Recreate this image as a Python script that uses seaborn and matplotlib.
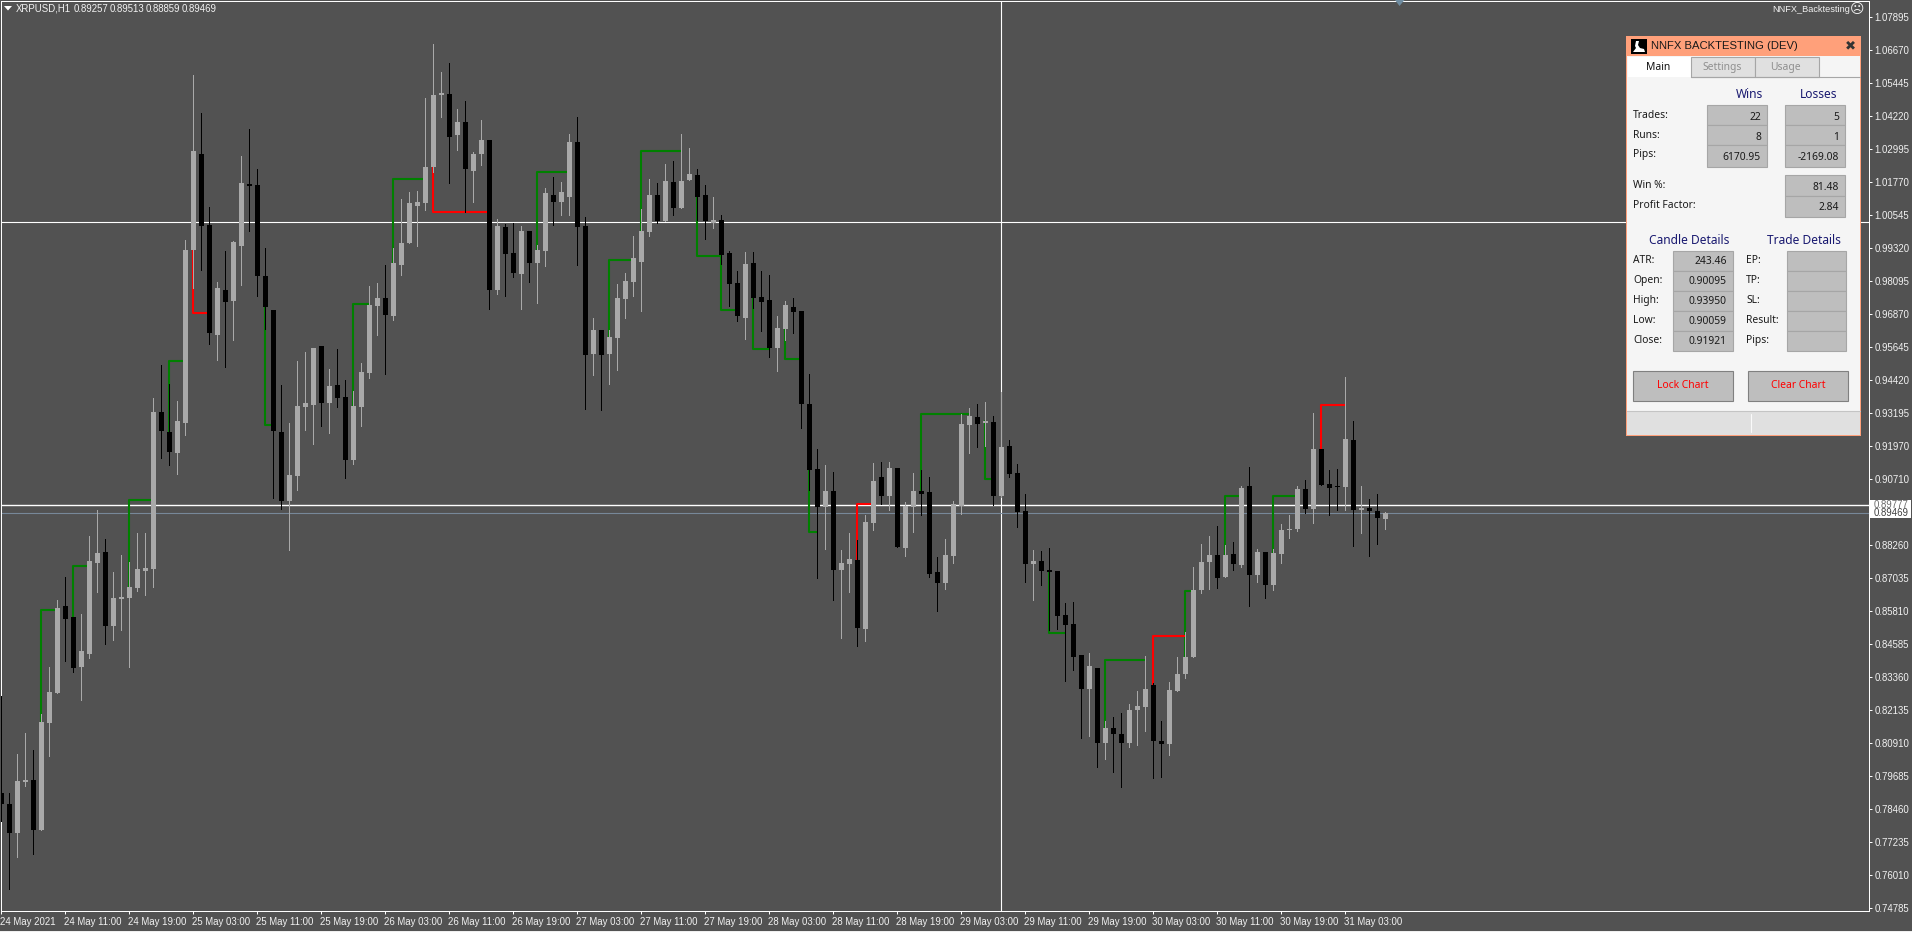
import matplotlib
matplotlib.use("Agg")
import matplotlib.pyplot as plt
from matplotlib.patches import Rectangle, Polygon
from matplotlib.transforms import ScaledTranslation
import pandas as pd
import seaborn as sns

# candles, one per hour
opens = [
    .79072, .78663, .77587, .79480, .79554, .77698, .81670, .82784, .86012, .85604,
    .83748, .84231, .87609, .88018, .85270, .86273, .86310, .86681, .87312, .87386,
    .93214, .92472, .91693, .92806, .99228, 1.02792, 1.00155, .96072, .97743, .97335,
    .99376, 1.01678, 1.01640, .98262, .97000, .92472, .89911, .90838, .93400, .93474,
    .95664, .93549, .94216, .93771, .91432, .93400, .94662, .97149, .97446, .96777,
    .98670, .99488, 1.00861, 1.00973, 1.02309, 1.04981, 1.05019, 1.03496, 1.03979, 1.02160,
    1.02792, 1.03311, .97743, 1.00081, .99117, .98337, .99933, .98745, .99191, 1.01269,
    1.01010, 1.01195, 1.03237, 1.00118, .95367, .96258, .95367, .95961, .97409, .98040,
    .98782, .99896, 1.01269, 1.00304, 1.01752, 1.00787, 1.01826, 1.02012, 1.01269, 1.00230,
    1.00341, .99117, .98003, .96703, .98745, .97483, .97372, .95590, .96295, .97112,
    .96963, .93512, .91098, .89688, .90282, .87349, .87572, .87720, .85159, .89094,
    .90801, .90096, .91135, .88166, .89688, .90282, .90245, .87275, .86867, .87869,
    .89726, .92731, .93028, .92806, .92843, .90095, .91952, .90950, .89539, .87572,
    .87683, .87349, .87312, .85678, .85344, .84194, .82932, .83711, .80928, .81484,
    .81262, .80928, .82152, .82263, .83081, .81002, .80891, .82858, .83489, .84119,
    .86607, .87646, .87906, .87089, .87943, .87535, .90468, .87163, .88018, .86792,
    .87943, .88834, .88871, .90356, .89613, .91841, .90542, .90468, .90430, .92175,
    .89576, .89650, .89539, .89257,
]
highs = [
    .82672, .79072, .80519, .81299, .80667, .82004, .83748, .86235, .87089, .85604,
    .85716, .88611, .89576, .88500, .87275, .87906, .87646, .88723, .88723, .93734,
    .94958, .94254, .93623, .99599, 1.05724, 1.04314, 1.00824, .98040, .99191, .99562,
    1.02717, 1.03719, 1.02235, .99302, .97000, .94216, .92806, .95107, .95442, .95590,
    .95664, .94810, .95553, .94402, .93994, .95033, .97891, .98003, .98670, .99302,
    1.01121, 1.01381, 1.01418, 1.04870, 1.06875, 1.05836, 1.06170, 1.04462, 1.04759, 1.02866,
    1.04053, 1.03311, 1.00378, 1.00193, 1.00230, 1.00118, .99933, .99413, 1.01529, 1.01937,
    1.01752, 1.03534, 1.04165, 1.00452, .96703, .96258, .96258, .97966, .98374, .99747,
    1.00749, 1.01863, 1.01715, 1.02421, 1.02532, 1.03534, 1.03014, 1.02235, 1.01640, 1.01195,
    1.00526, .99191, .98448, .99154, .99154, .98448, .98299, .96777, .97335, .97446,
    .96963, .94625, .91841, .91246, .90987, .88092, .88723, .88463, .89391, .91321,
    .91358, .91358, .91135, .89874, .90950, .91061, .90801, .87831, .88500, .89911,
    .93140, .93363, .93512, .93586, .93065, .93950, .92175, .91284, .90171, .88092,
    .88055, .88166, .87312, .86124, .86161, .84194, .84268, .83711, .81744, .81892,
    .82041, .82375, .82858, .84156, .83155, .81744, .83192, .84119, .85048, .87460,
    .88314, .88611, .88982, .88277, .88389, .90468, .91172, .88129, .88018, .88129,
    .89056, .89391, .90468, .90690, .93177, .91841, .91061, .91098, .94513, .92880,
    .90468, .89985, .90171, .89513,
]
lows = [
    .78032, .75508, .76695, .79331, .76807, .77698, .80444, .82784, .83971, .83563,
    .82523, .84082, .86533, .84603, .84751, .85122, .83748, .86570, .86421, .86718,
    .91507, .91246, .90913, .92360, .97817, .98485, .95739, .95144, .94884, .95887,
    .97928, .99933, .97520, .96295, .90022, .89614, .88092, .90319, .92546, .92027,
    .92694, .92435, .93400, .90764, .91284, .92694, .94476, .96072, .94625, .96629,
    .98299, .99488, .99376, 1.00712, 1.02123, 1.04165, 1.01715, 1.02940, 1.00638, 1.01010,
    1.02383, .97038, .97595, .97520, .98225, .97038, .98040, .97261, .98633, 1.00155,
    1.00526, 1.00526, .98670, .93325, .94588, .93288, .94254, .94773, .96703, .97520,
    .96963, .99747, 1.00230, 1.00304, 1.00526, 1.00787, 1.01826, 1.00341, .99636, 1.00044,
    .98708, .97149, .96592, .95924, .97075, .96221, .95250, .94736, .95887, .96147,
    .92620, .90319, .87052, .88129, .86235, .84825, .86533, .84528, .84714, .88834,
    .89800, .89576, .88203, .87869, .88760, .89391, .87089, .85827, .86644, .87609,
    .89428, .91693, .91915, .91952, .89763, .90059, .90801, .88945, .86904, .86235,
    .86792, .85122, .85159, .83229, .83637, .81113, .81187, .80036, .80333, .79851,
    .79294, .80779, .80853, .81373, .79628, .79665, .80481, .82858, .83340, .84119,
    .86496, .86644, .86681, .87089, .87349, .87461, .86012, .86904, .86310, .86607,
    .87609, .88537, .88797, .89465, .89094, .90505, .89391, .89576, .89576, .88240,
    .88723, .87869, .88314, .88859,
]
closes = [
    .78663, .77587, .79517, .79554, .77698, .81707, .82821, .85938, .85530, .83711,
    .84342, .87683, .87981, .85270, .86310, .86347, .86718, .87386, .87423, .93214,
    .92509, .91730, .92880, .99228, 1.02903, 1.00118, .96147, .97817, .97298, .99525,
    1.01715, 1.01603, .98262, .97112, .92509, .89911, .90875, .93437, .93549, .95590,
    .93549, .94179, .93734, .91432, .93437, .94699, .97186, .97446, .96814, .98745,
    .99488, 1.00973, 1.01010, 1.02309, 1.04981, 1.05056, 1.03422, 1.03979, 1.02235, 1.02792,
    1.03311, .97743, 1.00118, .99080, .98374, .99933, .98745, .99228, 1.01344, 1.01010,
    1.01381, 1.03237, 1.00081, .95330, .96258, .95330, .95998, .97446, .98077, .98930,
    .99933, 1.01269, 1.00304, 1.01789, 1.00787, 1.01789, 1.02049, 1.01195, 1.00304, 1.00341,
    .99042, .97966, .96777, .98708, .97446, .97298, .95590, .96332, .97186, .96926,
    .93512, .91061, .89688, .90282, .87349, .87609, .87757, .85196, .89131, .90653,
    .90096, .91135, .88203, .89726, .90282, .90171, .87201, .86867, .87906, .89800,
    .92769, .93065, .92769, .92880, .90096, .91921, .90913, .89502, .87572, .87683,
    .87312, .87275, .85641, .85307, .84119, .82932, .83785, .80928, .81484, .81262,
    .80928, .82152, .82301, .82932, .81002, .80891, .82895, .83489, .84119, .86607,
    .87646, .87906, .87052, .87906, .87572, .90393, .87163, .88018, .86792, .87981,
    .88834, .88871, .90356, .89613, .91841, .90505, .90393, .90430, .92212, .89576,
    .89650, .89539, .89279, .89469,
]

# back-test trades: entry bar, exit bar, entry price, exit level, result
trade_entry = [5, 9, 16, 21, 24, 33, 44, 49, 54, 67, 76, 80, 87, 90, 94, 98, 101, 107, 115, 123, 131, 138, 144, 148, 153, 159, 165]
trade_exit = [7, 11, 19, 23, 26, 34, 46, 53, 61, 71, 79, 85, 90, 92, 96, 100, 102, 109, 121, 124, 133, 143, 148, 149, 155, 162, 168]
trade_open = [
    .81707, .85604, .86718, .92472, .99228, .97112, .93437, .98745, 1.02309,
    .99228, .95998, .99933, 1.01195, .99042, .97446, .96295, .91061, .87720,
    .90282, .92880, .87312, .81484, .83081, .84119, .87906, .87981, .91841,
]
trade_level = [
    .85864, .87497, .89948, .95107, .96889, .92731, .97223, 1.01863, 1.00638,
    1.02123, .98856, 1.02903, .99005, .97000, .95553, .95181, .88760, .89800,
    .93140, .90727, .85011, .84008, .84899, .86570, .90096, .90096, .93474,
]
trade_result = ["win", "win", "win", "win", "loss", "win", "win", "win", "loss",
                "win", "win", "win", "win", "win", "win", "win", "win", "loss",
                "win", "win", "win", "win", "loss", "win", "win", "win", "loss"]

price_ticks = [1.07895, 1.06670, 1.05445, 1.04220, 1.02995, 1.01770, 1.00545, .99320, .98095,
               .96870, .95645, .94420, .93195, .91970, .90710, .88260, .87035, .85810, .84585,
               .83360, .82135, .80910, .79685, .78460, .77235, .76010, .74785]
time_ticks = list(range(0, 176, 8))
time_labels = ["24 May 2021", "24 May 11:00", "24 May 19:00", "25 May 03:00", "25 May 11:00",
               "25 May 19:00", "26 May 03:00", "26 May 11:00", "26 May 19:00", "27 May 03:00",
               "27 May 11:00", "27 May 19:00", "28 May 03:00", "28 May 11:00", "28 May 19:00",
               "29 May 03:00", "29 May 11:00", "29 May 19:00", "30 May 03:00", "30 May 11:00",
               "30 May 19:00", "31 May 03:00"]
ohlc_header = ["0.89257", "0.89513", "0.88859", "0.89469"]

cross_bar = 125
cross_price = 1.00267
level_price = .89750
bid_price = .89469

BG = "#525252"
BULL = "#A9A9A9"
TEXT = "#F2F2F2"
CHART_FONT = "Liberation Sans"
W, H = 1912, 932

sns.set_theme(style="dark", rc={"axes.facecolor": BG, "figure.facecolor": BG})
plt.rcParams["font.family"] = ["Noto Sans", "DejaVu Sans"]

fig = plt.figure(figsize=(W / 100, H / 100), dpi=100)
# pixel box of the chart: x 1..1868.5, y 1..910.5
ax = fig.add_axes([1 / W, (H - 910.5) / H, 1867.5 / W, 909.5 / H])
ax.set_facecolor(BG)

df = pd.DataFrame({"open": opens, "high": highs, "low": lows, "close": closes})
df["bar"] = df.index
df["bear"] = df.close < df.open
df["bottom"] = df[["open", "close"]].min(axis=1)
df["size"] = (df.close - df.open).abs()

wicks = df.melt(id_vars=["bar", "bear"], value_vars=["high", "low"], value_name="price")
for is_bear, col in [(True, "black"), (False, BULL)]:
    sns.lineplot(data=wicks[wicks.bear == is_bear], x="bar", y="price", units="bar", estimator=None,
                 color=col, linewidth=0.72, antialiased=False, zorder=4, legend=False, ax=ax)
    part = df[df.bear == is_bear]
    ax.bar(part["bar"], part["size"], bottom=part["bottom"], width=0.625, color=col, edgecolor="none",
           linewidth=0, antialiased=False, zorder=5)

rows = []
for n in range(len(trade_entry)):
    rows.append((n, trade_entry[n], trade_open[n], trade_result[n]))
    rows.append((n, trade_entry[n], trade_level[n], trade_result[n]))
    rows.append((n, trade_exit[n], trade_level[n], trade_result[n]))
trades = pd.DataFrame(rows, columns=["trade", "bar", "price", "result"])
sns.lineplot(data=trades, x="bar", y="price", hue="result", units="trade", estimator=None, sort=False,
             palette={"win": "#008000", "loss": "#FF0000"}, linewidth=1.5, zorder=3, legend=False, ax=ax)

ax.axhline(cross_price, color="white", lw=0.8, zorder=2)
ax.axvline(cross_bar, color="white", lw=0.8, zorder=2)
ax.axhline(level_price, color="white", lw=1.0, zorder=2)
ax.axhline(bid_price, color="#778899", lw=0.8, zorder=2)

ax.set_xlim(-0.025, 233.4125)
ax.set_ylim(0.74708, 1.08471)
ax.set_xlabel("")
ax.set_ylabel("")
ax.yaxis.tick_right()
ax.set_yticks(price_ticks)
ax.set_yticklabels([f"{p:.5f}" for p in price_ticks])
ax.set_xticks(time_ticks)
ax.set_xticklabels(time_labels, ha="left")
ax.tick_params(axis="both", length=2.5, width=0.72, color="white", labelcolor=TEXT, labelsize=6.9,
               bottom=True, right=True, left=False, pad=2)
for tick_text in ax.get_xticklabels() + ax.get_yticklabels():
    tick_text.set_fontfamily(CHART_FONT)
for tick_text in ax.get_xticklabels():
    tick_text.set_transform(tick_text.get_transform() + ScaledTranslation(-1 / 100, 0, fig.dpi_scale_trans))
ax.grid(False)
for side in ax.spines:
    ax.spines[side].set_color("white")
    ax.spines[side].set_linewidth(0.72)
    ax.spines[side].set_visible(True)

# overlay in screen pixels for the header texts and the back-test panel
ov = fig.add_axes([0, 0, 1, 1], zorder=10)
ov.set_xlim(0, W)
ov.set_ylim(H, 0)
ov.axis("off")


def box(x0, y0, x1, y1, fc, ec="none", lw=0.8):
    ov.add_patch(Rectangle((x0, y0), x1 - x0, y1 - y0, facecolor=fc, edgecolor=ec, linewidth=lw))


def label(x, y, s, size=7.4, color="#1A1A1A", ha="left", **kw):
    ov.text(x, y, s, fontsize=size, color=color, ha=ha, va="center", **kw)


box(0, 931, W, 932, "#F0F0F0")
ov.add_patch(Polygon([(4, 6), (12, 6), (8, 10.5)], closed=True, facecolor="white", edgecolor="none"))
label(16, 8.5, "XRPUSD,H1", size=6.9, color=TEXT, family=CHART_FONT)
for x_text, s in zip([74, 110, 146, 182], ohlc_header):
    label(x_text, 8.5, s, size=6.9, color=TEXT, family=CHART_FONT)
label(1850, 10, "NNFX_Backtesting", size=6.6, color=TEXT, ha="right", family=CHART_FONT)
label(1857, 9.5, "\u2639", size=10, color=TEXT, ha="center", family="DejaVu Sans")
ov.add_patch(Polygon([(1395, 0), (1404.5, 0), (1399.5, 6)], closed=True, facecolor="#6F8CA0", edgecolor="none"))

# price flags on the axis
box(1870, 500, 1911, 510, "white")
label(1874, 505, "0.89777", color="#6A6A6A", size=6.9, family=CHART_FONT)
box(1870, 508, 1911, 518, "white")
label(1874, 513, "0.89469", color="#404040", size=6.9, family=CHART_FONT)

# panel frame
SALMON = "#FFA07A"
PANEL_BG = "#F5F5F5"
CELL = "#BEBEBE"
EDGE = "#A6A6A6"
NAVY = "#191970"
box(1626, 36, 1861.5, 436, SALMON)
box(1627.5, 56, 1860, 434.5, PANEL_BG)

# title bar
box(1631, 38.5, 1647, 53.5, "black")
ov.add_patch(Polygon([(1633, 52), (1645, 52), (1644, 49), (1640, 48), (1638, 45), (1639, 41), (1636, 41), (1635, 46), (1636, 48)],
                     closed=True, facecolor="white", edgecolor="none"))
label(1651, 46, "NNFX BACKTESTING (DEV)", size=8.1, family=CHART_FONT)
label(1850, 46, "\u2716", size=9.5, color="#333333", ha="center", family="DejaVu Sans")

# tabs
box(1628, 57, 1691, 77, "white")
box(1691, 57, 1755, 77, "#E0E0E0", EDGE)
box(1755, 57, 1819, 77, "#E0E0E0", EDGE)
ov.plot([1691, 1860], [77, 77], color=EDGE, lw=0.8)
label(1658, 67.5, "Main", ha="center", color="#111111")
label(1722, 67.5, "Settings", ha="center", color="#8F8F8F")
label(1785, 67.5, "Usage", ha="center", color="#8F8F8F")

# results block
label(1763, 95, "Wins", size=8.6, color=NAVY, ha="right")
label(1837, 95, "Losses", size=8.6, color=NAVY, ha="right")
for y0, y1, name, win, loss in [(105, 125, "Trades:", "22", "5"), (125, 145, "Runs:", "8", "1"),
                                (145, 167, "Pips:", "6170.95", "-2169.08")]:
    box(1707.5, y0, 1767, y1, CELL, EDGE)
    box(1785.5, y0, 1845, y1, CELL, EDGE)
    label(1633, y0 + 10, name)
    label(1761, y0 + 12, win, ha="right")
    label(1839, y0 + 12, loss, ha="right")
for y0, y1, name, value in [(175, 196, "Win %:", "81.48"), (196, 217, "Profit Factor:", "2.84")]:
    box(1785.5, y0, 1845, y1, CELL, EDGE)
    label(1633, y0 + 10, name)
    label(1839, y0 + 12, value, ha="right")

# details block
label(1689, 240, "Candle Details", size=8.6, color=NAVY, ha="center")
label(1804, 240, "Trade Details", size=8.6, color=NAVY, ha="center")
candle_rows = [("ATR:", "243.46"), ("Open:", "0.90095"), ("High:", "0.93950"), ("Low:", "0.90059"), ("Close:", "0.91921")]
trade_rows = ["EP:", "TP:", "SL:", "Result:", "Pips:"]
for k in range(5):
    y0 = 251 + 20 * k
    box(1673.5, y0, 1733, y0 + 20.4, CELL, EDGE)
    box(1787, y0, 1846, y0 + 20.4, CELL, EDGE)
    label(1633, y0 + 9.5, candle_rows[k][0])
    label(1727, y0 + 11, candle_rows[k][1], ha="right")
    label(1746, y0 + 9.5, trade_rows[k])

# buttons
box(1633.5, 371, 1733, 401, CELL, "#808080")
box(1748.5, 371, 1848, 401, CELL, "#808080")
label(1683, 386, "Lock Chart", color="#FF0000", ha="center")
label(1798, 386, "Clear Chart", color="#FF0000", ha="center")

# status bar
box(1627.5, 411, 1860, 434.5, "#E0E0E0")
ov.plot([1627.5, 1860], [411, 411], color="#C4C4C4", lw=0.8)
ov.plot([1751, 1751], [414, 432], color="#FAFAFA", lw=0.8)

fig.savefig("out.png", dpi=100)
